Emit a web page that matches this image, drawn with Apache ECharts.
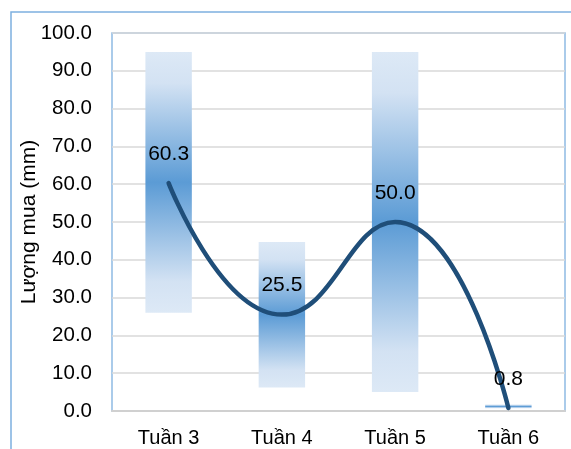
<!DOCTYPE html>
<html>
<head>
<meta charset="utf-8">
<script src="https://cdn.jsdelivr.net/npm/echarts@6/dist/echarts.min.js"></script>
<style>
html,body{margin:0;padding:0;background:#fff;}
#c{width:571px;height:449px;}
</style>
</head>
<body>
<div id="c"></div>
<script>
var categories = ['Tuần 3', 'Tuần 4', 'Tuần 5', 'Tuần 6'];
var rainfall = [60.3, 25.5, 50.0, 0.8];
var rangeLow = [26.0, 6.2, 5.0, 0.7];
var rangeHigh = [95.0, 44.7, 95.0, 1.7];
var yTicks = [0, 100, 10];

var chart = echarts.init(document.getElementById('c'));
var grad = {
  type: 'linear', x: 0, y: 0, x2: 0, y2: 1,
  colorStops: [
    {offset: 0, color: '#dde9f6'},
    {offset: 0.12, color: '#d3e2f3'},
    {offset: 0.5, color: '#5b9bd5'},
    {offset: 0.88, color: '#d3e2f3'},
    {offset: 1, color: '#dde9f6'}
  ]
};
chart.setOption({
  animation: false,
  textStyle: {fontFamily: 'Liberation Sans, Arial, sans-serif'},
  graphic: [{
    type: 'rect', shape: {x: 11, y: 12, width: 600, height: 500},
    style: {fill: 'none', stroke: '#7eb0e0', lineWidth: 1.5}, silent: true
  }],
  grid: {left: 112, top: 33, right: 6, bottom: 38, show: true, borderColor: '#8fbbe4', borderWidth: 1.5, backgroundColor: 'transparent'},
  xAxis: {
    type: 'category', data: categories,
    axisLine: {lineStyle: {color: '#d0d0d0', width: 2}},
    axisTick: {show: false},
    axisLabel: {color: '#000', fontSize: 20, margin: 17}
  },
  yAxis: {
    type: 'value', min: yTicks[0], max: yTicks[1], interval: yTicks[2],
    name: 'Lượng mua (mm)', nameLocation: 'middle', nameGap: 72, nameMoveOverlap: false,
    nameTextStyle: {color: '#000', fontSize: 21},
    axisLine: {show: false}, axisTick: {show: false},
    axisLabel: {color: '#000', fontSize: 20.5, margin: 20, formatter: function(v){return v.toFixed(1);}},
    splitLine: {lineStyle: {color: '#d9d9d9', width: 1.5}}
  },
  series: [
    {type: 'bar', stack: 'r', data: rangeLow, barWidth: '41%', itemStyle: {color: 'transparent'}, silent: true},
    {type: 'bar', stack: 'r', data: rangeHigh.map(function(h, i){return +(h - rangeLow[i]).toFixed(2);}),
     itemStyle: {color: grad}, silent: true},
    {type: 'line', data: rainfall, smooth: 0.5, showSymbol: true, symbol: 'circle', symbolSize: 1,
     itemStyle: {color: '#1f4e79'},
     lineStyle: {color: '#1f4e79', width: 4.5, cap: 'round'},
     label: {show: true, position: 'top', distance: 18, color: '#000', fontSize: 21,
       formatter: function(p){return p.value.toFixed(1);}},
     z: 5}
  ]
});
</script>
</body>
</html>
